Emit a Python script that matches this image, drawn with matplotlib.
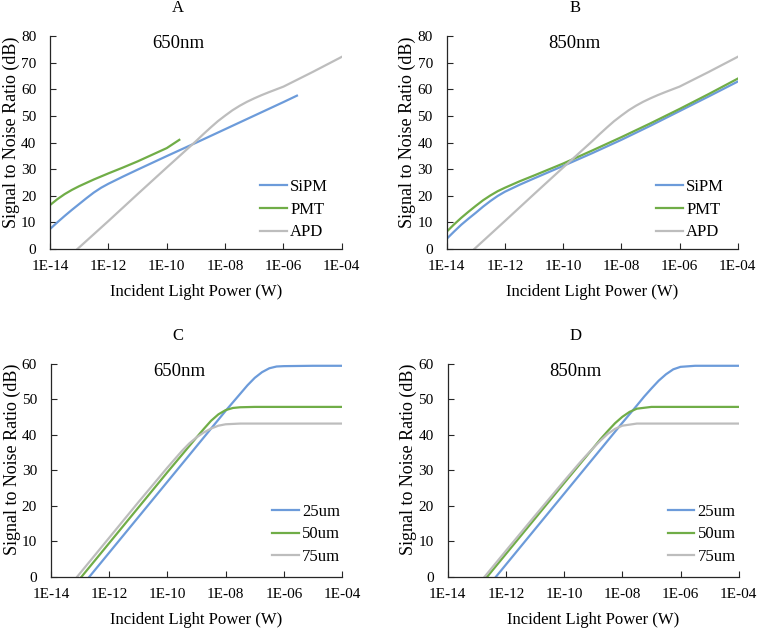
import numpy as np
import matplotlib
matplotlib.use('Agg')
import matplotlib.pyplot as plt

plt.rcParams['font.family'] = ['Liberation Serif', 'DejaVu Serif']

# x values are log10 of incident light power (W)
# Panel A (650nm)
sipm_a_x = [-14, -13.75, -13.5, -13.25, -13, -12.75, -12.5, -12.25, -12, -11.5, -11, -10, -9, -8, -7, -6, -5.54]
sipm_a_y = [7.5, 10.0, 12.4, 14.7, 16.9, 19.1, 21.2, 23.0, 24.5, 27.2, 29.8, 34.9, 39.9, 45.0, 50.1, 55.2, 57.6]
pmt_a_x = [-14, -13.75, -13.5, -13.25, -13, -12.5, -12, -11.5, -11, -10, -9.57]
pmt_a_y = [16.5, 18.7, 20.6, 22.2, 23.6, 26.1, 28.4, 30.6, 32.9, 37.9, 41.0]
apd_a_x = [-13.06, -12, -11, -10, -9, -8.75, -8.5, -8.25, -8, -7.75, -7.5, -7.25, -7, -6.75, -6.5, -6, -5, -4]
apd_a_y = [0, 10.5, 20.6, 30.6, 40.5, 43.1, 45.6, 48.0, 50.1, 52.1, 53.8, 55.3, 56.6, 57.8, 58.9, 61.0, 66.5, 72.2]

# Panel B (850nm)
sipm_b_x = [-14, -13.75, -13.5, -13.25, -13, -12.75, -12.5, -12.25, -12, -11.5, -11, -10, -9, -8, -7, -6, -5, -4]
sipm_b_y = [3.8, 6.5, 9.1, 11.4, 13.6, 15.9, 18.0, 19.9, 21.5, 24.1, 26.5, 31.2, 36.0, 41.0, 46.3, 51.8, 57.3, 62.9]
pmt_b_x = [-14, -13.75, -13.5, -13.25, -13, -12.75, -12.5, -12.25, -12, -11.5, -11, -10, -9, -8, -7, -6, -5, -4]
pmt_b_y = [6.5, 9.2, 11.7, 14.0, 16.2, 18.3, 20.1, 21.7, 23.0, 25.4, 27.6, 32.1, 37.0, 42.0, 47.2, 52.6, 58.2, 64.0]
apd_b_x = [-13.05, -12, -11, -10, -9, -8.75, -8.5, -8.25, -8, -7.75, -7.5, -7.25, -7, -6.75, -6.5, -6, -5, -4]
apd_b_y = [0, 10.5, 20.6, 30.6, 40.5, 43.1, 45.6, 48.0, 50.1, 52.1, 53.8, 55.3, 56.6, 57.8, 58.9, 61.0, 66.5, 72.2]

# Panel C (650nm)
um25_c_x = [-12.68, -12, -11, -10, -9, -8, -7.5, -7.25, -7, -6.75, -6.5, -6.25, -6, -5, -4]
um25_c_y = [0, 6.8, 16.8, 26.8, 36.8, 46.8, 51.6, 54.0, 56.1, 57.7, 58.8, 59.3, 59.4, 59.5, 59.5]
um50_c_x = [-12.95, -12, -11, -10, -9, -8.75, -8.5, -8.25, -8, -7.75, -7.5, -7, -4]
um50_c_y = [0, 9.5, 19.5, 29.5, 39.3, 41.7, 44.0, 45.8, 47.0, 47.6, 47.8, 47.9, 47.9]
um75_c_x = [-13.1, -12, -11, -10, -9.5, -9.25, -9, -8.75, -8.5, -8.25, -8, -7.5, -4]
um75_c_y = [0, 11.0, 21.0, 30.8, 35.5, 37.6, 39.3, 40.7, 41.8, 42.6, 43.0, 43.2, 43.2]

# Panel D (850nm)
um25_d_x = [-12.34, -12, -11, -10, -9, -8, -7.5, -7.25, -7, -6.75, -6.5, -6.25, -6, -5.5, -4]
um25_d_y = [0, 3.4, 13.4, 23.4, 33.4, 43.4, 48.3, 50.8, 53.1, 55.3, 57.1, 58.5, 59.2, 59.5, 59.5]
um50_d_x = [-12.64, -12, -11, -10, -9, -8.75, -8.5, -8.25, -8, -7.75, -7.5, -7, -4]
um50_d_y = [0, 6.4, 16.4, 26.4, 36.3, 38.8, 41.1, 43.3, 45.1, 46.5, 47.4, 47.9, 47.9]
um75_d_x = [-12.73, -12, -11, -10, -9.5, -9.25, -9, -8.75, -8.5, -8.25, -8, -7.5, -4]
um75_d_y = [0, 7.3, 17.2, 27.0, 31.8, 34.1, 36.3, 38.4, 40.3, 41.7, 42.6, 43.2, 43.2]

tick_exps = [-14, -12, -10, -8, -6, -4]
tick_labels = ['1E-14', '1E-12', '1E-10', '1E-08', '1E-06', '1E-04']

blue = '#6C9BDA'
green = '#70AD47'
gray = '#BDBDBD'
axis_col = '#262626'

fig = plt.figure(figsize=(7.58, 6.30), dpi=100)


def setup(ax, ymax, wl, legend_x, legend_y):
    ax.set_xscale('log')
    ax.set_xlim(1e-14, 1e-4)
    ax.set_ylim(0, ymax)
    ax.set_xticks([10.0 ** e for e in tick_exps])
    ax.set_xticklabels(tick_labels)
    ax.xaxis.set_minor_locator(matplotlib.ticker.NullLocator())
    ax.set_yticks(range(0, ymax + 1, 10))
    ax.tick_params(axis='x', direction='in', length=4, width=0.8, color=axis_col,
                   labelsize=11, pad=8)
    ax.tick_params(axis='y', direction='in', length=4, width=0.8, color=axis_col,
                   labelsize=11, pad=10)
    for s in ['top', 'right']:
        ax.spines[s].set_visible(False)
    for s in ['left', 'bottom']:
        ax.spines[s].set_linewidth(0.9)
        ax.spines[s].set_color(axis_col)
    ax.set_xlabel('Incident Light Power (W)', fontsize=12, labelpad=8)
    ax.set_ylabel('Signal to Noise Ratio (dB)', fontsize=13)
    ax.yaxis.set_label_coords(-0.104, 0.55)
    ax.text(0.44, 0.965, wl, transform=ax.transAxes, fontsize=13.5, ha='center', va='center')
    ax.legend(loc='lower left', bbox_to_anchor=(legend_x, legend_y), frameon=False,
              fontsize=12, handlelength=1.6, handletextpad=0.2, labelspacing=0.4,
              borderpad=0, borderaxespad=0)


def plot_series(ax, xs, ys, color, label):
    ax.plot(10.0 ** np.array(xs), ys, color=color, lw=1.6, label=label,
            solid_joinstyle='round')


axA = fig.add_axes([0.066, 0.6048, 0.385, 0.338])
plot_series(axA, sipm_a_x, sipm_a_y, blue, 'SiPM')
plot_series(axA, pmt_a_x, pmt_a_y, green, 'PMT')
plot_series(axA, apd_a_x, apd_a_y, gray, 'APD')
setup(axA, 80, '650nm', 0.72, 0.04)

axB = fig.add_axes([0.5893, 0.6048, 0.384, 0.338])
plot_series(axB, sipm_b_x, sipm_b_y, blue, 'SiPM')
plot_series(axB, pmt_b_x, pmt_b_y, green, 'PMT')
plot_series(axB, apd_b_x, apd_b_y, gray, 'APD')
setup(axB, 80, '850nm', 0.72, 0.04)

axC = fig.add_axes([0.0673, 0.0846, 0.384, 0.3376])
plot_series(axC, um25_c_x, um25_c_y, blue, '25um')
plot_series(axC, um50_c_x, um50_c_y, green, '50um')
plot_series(axC, um75_c_x, um75_c_y, gray, '75um')
setup(axC, 60, '650nm', 0.76, 0.055)

axD = fig.add_axes([0.5906, 0.0846, 0.384, 0.3376])
plot_series(axD, um25_d_x, um25_d_y, blue, '25um')
plot_series(axD, um50_d_x, um50_d_y, green, '50um')
plot_series(axD, um75_d_x, um75_d_y, gray, '75um')
setup(axD, 60, '850nm', 0.756, 0.055)

fig.text(0.235, 0.987, 'A', fontsize=12, ha='center', va='center')
fig.text(0.7586, 0.987, 'B', fontsize=12, ha='center', va='center')
fig.text(0.235, 0.467, 'C', fontsize=12, ha='center', va='center')
fig.text(0.7586, 0.467, 'D', fontsize=12, ha='center', va='center')

fig.savefig('out.png', dpi=100)
